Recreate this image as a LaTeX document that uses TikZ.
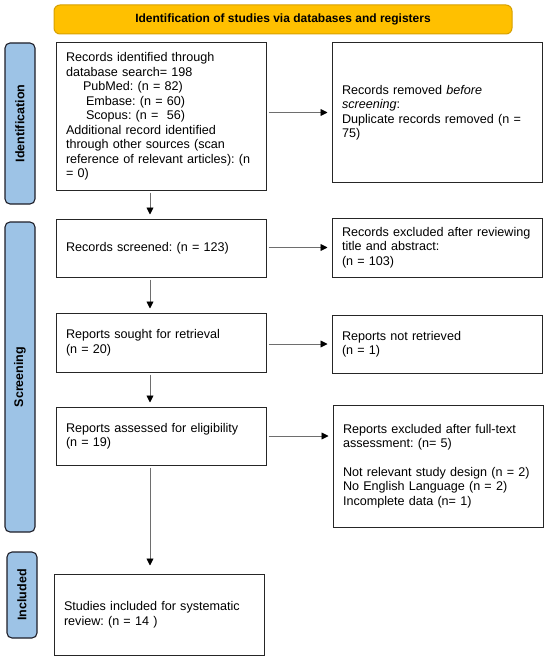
\documentclass[tikz,border=0pt]{standalone}
\usepackage{fontspec}
\setmainfont{Liberation Sans}
\usetikzlibrary{arrows.meta}
\definecolor{hdrfill}{RGB}{255,192,0}
\definecolor{hdrline}{RGB}{214,160,0}
\definecolor{barfill}{RGB}{157,195,230}
\definecolor{barline}{RGB}{30,30,40}
\definecolor{linegray}{RGB}{110,110,110}
\begin{document}
\begin{tikzpicture}[x=1pt,y=-1pt,
  box/.style={draw=black!85, line width=1pt, text width=190pt, inner xsep=10pt, inner ysep=0pt,
    align=left, minimum width=210pt, font=\fontsize{12.6}{14.5}\selectfont,
    execute at begin node={\frenchspacing\hyphenpenalty=10000\exhyphenpenalty=10000}},
  bar/.style={draw=barline, fill=barfill, line width=1.1pt, rounded corners=5pt,
    minimum height=30pt, inner sep=0pt, rotate=90, font=\bfseries\fontsize{12.5}{14}\selectfont},
  hdr/.style={draw=hdrline, fill=hdrfill, line width=1pt, rounded corners=6pt,
    font=\bfseries\fontsize{12}{14}\selectfont},
  arr/.style={draw=linegray, line width=0.9pt, -{Triangle[length=7pt,width=7pt,color=black]},
    shorten >=4pt, shorten <=2pt}]
\useasboundingbox (0,0) rectangle (550,661);

\node[hdr, minimum width=458pt, minimum height=29pt] (hdr) at (283,19.5) {Identification of studies via databases and registers};

\node[bar, minimum width=161pt] (idbar) at (20,123.5) {Identification};
\node[bar, minimum width=310pt] (scbar) at (20,377) {Screening};
\node[bar, minimum width=86pt] (inbar) at (22,595) {Included};

\node[box, minimum height=147pt] (b1) at (161,116.5) {Records identified through\\
database search= 198\\
\hspace*{17pt}PubMed: (n = 82)\\
\hspace*{20pt}Embase: (n = 60)\\
\hspace*{20pt}Scopus: (n =\ \ 56)\\
Additional record identified\\
through other sources (scan\\
reference of relevant articles): (n\\
= 0)};

\node[box, minimum height=139pt] (rem) at (437,112.5) {Records removed \textit{before}\\
\textit{screening}:\\
Duplicate records removed (n =\\
75)};

\node[box, minimum height=58pt] (scr) at (161,248) {Records screened: (n = 123)};
\node[box, minimum height=59pt] (exc1) at (437,247.5) {Records excluded after reviewing\\
title and abstract:\\
(n = 103)};

\node[box, minimum height=59pt] (sought) at (161,342.5) {Reports sought for retrieval\\
(n = 20)};
\node[box, minimum height=58pt] (notret) at (437,344) {Reports not retrieved\\
(n = 1)};

\node[box, minimum height=58pt] (assess) at (161,436) {Reports assessed for eligibility\\
(n = 19)};
\node[box, minimum height=122pt] (exc2) at (438,466) {Reports excluded after full-text\\
assessment: (n= 5)\\[14pt]
Not relevant study design (n = 2)\\
No English Language (n = 2)\\
Incomplete data (n= 1)};

\node[box, minimum height=81pt] (incl) at (159,614.5) {Studies included for systematic\\
review: (n = 14 )};

\draw[arr] (rem.west -| b1.east) -- (rem.west);
\draw[arr] (exc1.west -| scr.east) -- (exc1.west);
\draw[arr] (notret.west -| sought.east) -- (notret.west);
\draw[arr] (assess.east) -- (assess.east -| exc2.west);

\draw[arr] ([xshift=-11pt]b1.south) -- ([xshift=-11pt]b1.south |- scr.north);
\draw[arr] ([xshift=-11pt]scr.south) -- ([xshift=-11pt]scr.south |- sought.north);
\draw[arr] ([xshift=-11pt]sought.south) -- ([xshift=-11pt]sought.south |- assess.north);
\draw[arr, shorten >=8pt] ([xshift=-11pt]assess.south) -- ([xshift=-11pt]assess.south |- incl.north);
\end{tikzpicture}
\end{document}
